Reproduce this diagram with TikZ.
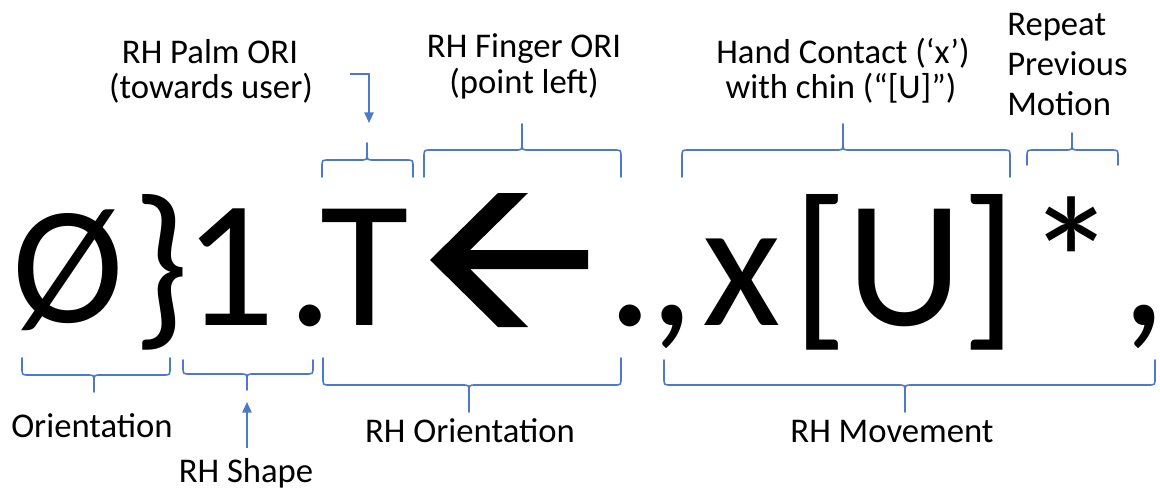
\documentclass[tikz,border=0pt]{standalone}
\usepackage{fontspec}
\setmainfont{Carlito}
\usetikzlibrary{arrows.meta}
\definecolor{bracecol}{RGB}{78,121,200}
\tikzset{
  big/.style={inner sep=0pt, anchor=base, font=\fontsize{136}{136}\selectfont},
  lbl/.style={inner sep=0pt, anchor=base, font=\fontsize{26}{26}\selectfont},
  brace/.style={draw=bracecol, line width=1.2pt, line join=round, line cap=round},
  pointer/.style={draw=bracecol, line width=1.2pt, -{Triangle[length=8pt,width=7pt]}},
}
% brace opening downward onto the text, tip pointing up: xl xr xm yends yline ytip
\newcommand\upbrace[6]{%
  \draw[brace] (#1,#4) -- (#1,#5+7) .. controls (#1,#5) .. (#1+7,#5) -- (#3-7,#5) .. controls (#3,#5) .. (#3,#5-7) -- (#3,#6);
  \draw[brace] (#2,#4) -- (#2,#5+7) .. controls (#2,#5) .. (#2-7,#5) -- (#3+7,#5) .. controls (#3,#5) .. (#3,#5-7);
}
% brace opening upward, tip pointing down
\newcommand\downbrace[6]{%
  \draw[brace] (#1,#4) -- (#1,#5-7) .. controls (#1,#5) .. (#1+7,#5) -- (#3-7,#5) .. controls (#3,#5) .. (#3,#5+7) -- (#3,#6);
  \draw[brace] (#2,#4) -- (#2,#5-7) .. controls (#2,#5) .. (#2-7,#5) -- (#3+7,#5) .. controls (#3,#5) .. (#3,#5+7);
}
\begin{document}
\begin{tikzpicture}[x=0.75pt,y=-0.75pt]
\useasboundingbox (0,0) rectangle (1160,489);
\fill[white] (0,0) rectangle (1160,489);

% big notation
\node[big, font=\fontsize{126}{126}\selectfont] (g1) at (68,322) {Ø};
\node[big] (g2) at (161,325) {\}};
\node[big] (g3) at (229,325) {1};
\node[big] (g4) at (310,325) {.};
\node[big] (g5) at (365,325) {T};
% leftwards arrow glyph
\fill[black] (430,260) -- (498,193) -- (528,193) -- (470,250) -- (588,250)
  -- (588,269) -- (470,269) -- (528,327) -- (498,327) -- cycle;
\node[big] (g7) at (630,325) {.};
\node[big] (g8) at (672,325) {,};
\node[big] (g9) at (742,325) {x};
\node[big] (g10) at (820,325) {[};
\node[big] (g11) at (905,325) {U};
\node[big] (g12) at (989,325) {]};
\node[big] (g13) at (1072,325) {*};
\node[big] (g14) at (1144,325) {\makebox[0pt]{,}};

% top labels
\node[lbl] (palm1) at (210,63) {RH Palm ORI};
\node[lbl] (palm2) at (211,98) {(towards user)};
\node[lbl] (fing1) at (524,57) {RH Finger ORI};
\node[lbl] (fing2) at (524,93) {(point left)};
\node[lbl] (hand1) at (843,63) {Hand Contact (‘x’)};
\node[lbl] (hand2) at (841,98) {with chin (“[U]”)};
\node[lbl, anchor=base west] (rep1) at (1007,36) {Repeat};
\node[lbl, anchor=base west] (rep2) at (1007,75) {Previous};
\node[lbl, anchor=base west] (rep3) at (1007,115) {Motion};

% bottom labels
\node[lbl] (orient) at (92,437) {Orientation};
\node[lbl] (shape) at (246,482) {RH Shape};
\node[lbl] (rhori) at (470,442) {RH Orientation};
\node[lbl] (rhmov) at (892,442) {RH Movement};

% top braces
\upbrace{322}{413}{367}{177}{160}{143}
\upbrace{424}{621}{522}{177}{150}{124}
\upbrace{682}{1010}{843}{177}{150}{124}
\upbrace{1027}{1118}{1072}{165}{150}{133}

% bottom braces
\downbrace{22}{170}{94}{358}{375}{392}
\downbrace{183}{313}{247}{360}{374}{390}
\downbrace{323}{621}{469}{358}{385}{412}
\downbrace{664}{1155}{905}{360}{385}{412}

% pointers
\coordinate (palmstart) at (350,74);
\coordinate (palmtip) at (369,143);
\draw[pointer, shorten >=15pt] (palmstart) -| (palmtip);
\coordinate (shapestart) at (247,448);
\coordinate (shapetip) at (247,390);
\draw[pointer, shorten >=9pt] (shapestart) -- (shapetip);
\end{tikzpicture}
\end{document}
